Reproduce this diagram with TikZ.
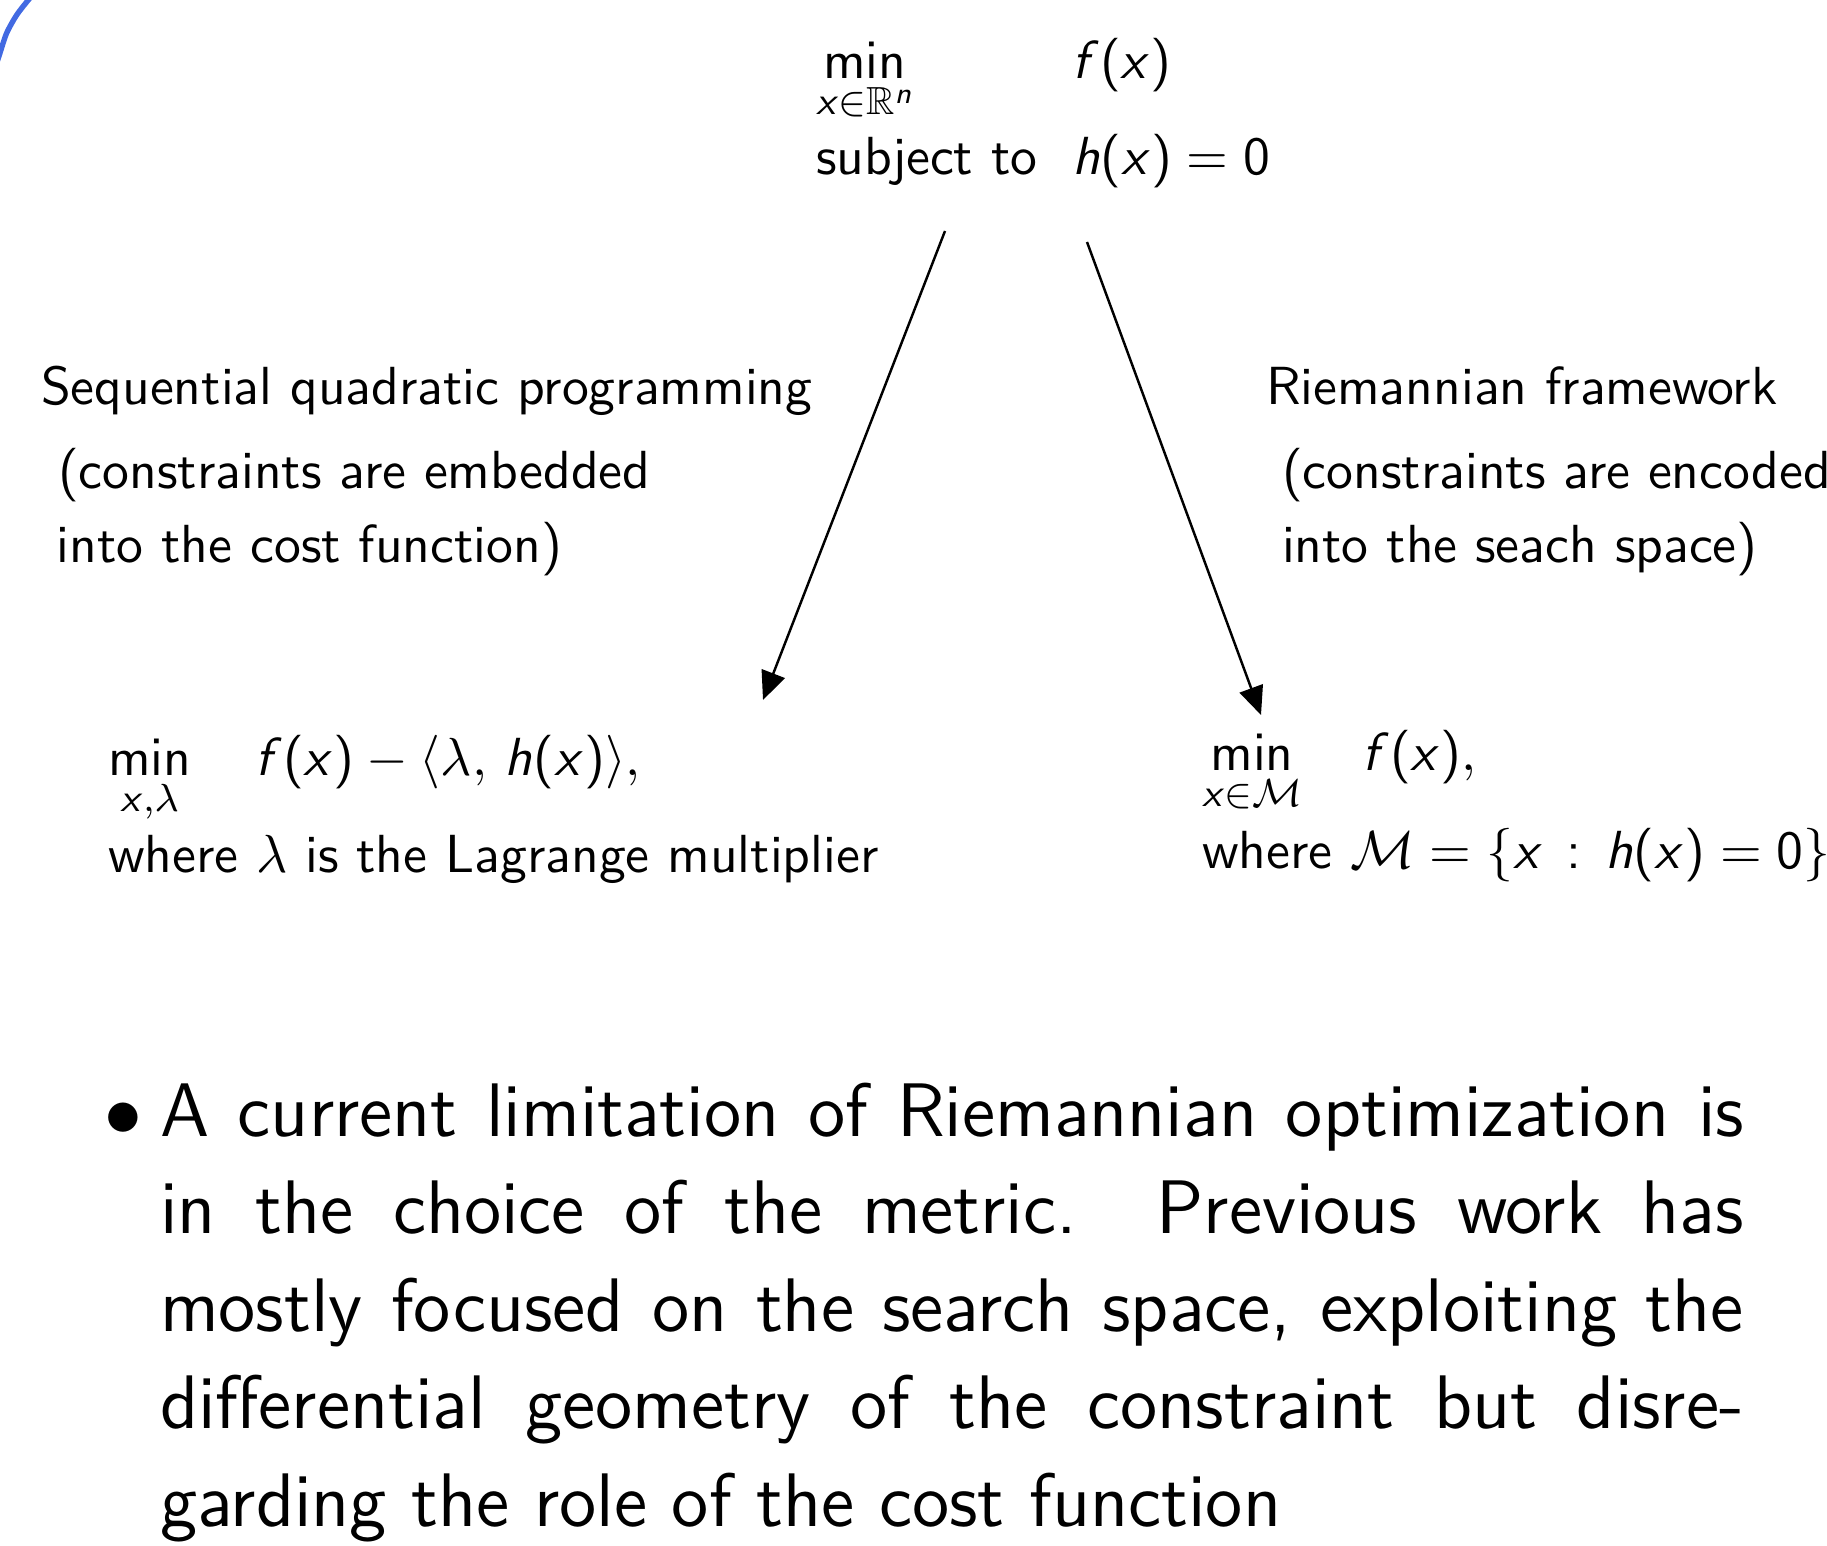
\documentclass[tikz,border=0pt]{standalone}
\usepackage{amssymb}
\usetikzlibrary{arrows.meta}
\DeclareSymbolFont{operators}{OT1}{cmss}{m}{n}
\DeclareSymbolFont{sfit}{OT1}{cmss}{m}{sl}
\DeclareMathSymbol{f}{\mathalpha}{sfit}{`f}
\DeclareMathSymbol{h}{\mathalpha}{sfit}{`h}
\DeclareMathSymbol{n}{\mathalpha}{sfit}{`n}
\DeclareMathSymbol{x}{\mathalpha}{sfit}{`x}
\definecolor{arcblue}{RGB}{66,106,226}
\tikzset{
  txt/.style={anchor=base west, inner sep=0pt, outer sep=0pt, font=\fontsize{10.95}{13.6}\selectfont\sffamily},
  bigtxt/.style={anchor=base west, inner sep=0pt, outer sep=0pt, font=\fontsize{15.49}{19.9}\selectfont\sffamily},
  bultxt/.style={anchor=base west, inner sep=0pt, outer sep=0pt, font=\fontsize{14.4}{17}\selectfont, scale=1.07},
  conn/.style={line width=0.5pt, -{Triangle[length=5.8pt,width=5pt]}},
  arcline/.style={draw=arcblue, line width=1.1pt}
}
\begin{document}
\begin{tikzpicture}[x=0.2041pt, y=-0.2041pt]
\useasboundingbox (0,0) rectangle (1827,1546);
% blue arc in the corner
\draw[arcline] plot[smooth] coordinates {(-3,62) (0,53) (6.7,33) (16.7,15) (28.3,0) (31,-3)};
% top problem
\node[txt] (tmin) at (816,79) {$\displaystyle\min_{x\in\mathbb{R}^n}$};
\node[txt] (tf) at (1072,79) {$f(x)$};
\node[txt] (tsub) at (816,175) {subject to};
\node[txt] (th) at (1072,175) {$h(x)=0$};
% labels
\node[txt] (sqpa) at (41,405) {Sequential quadratic programming};
\node[txt] (sqpb) at (58,489) {(constraints are embedded};
\node[txt] (sqpc) at (57,563) {into the cost function)};
\node[txt] (rfa) at (1266,405) {Riemannian framework};
\node[txt] (rfb) at (1282,489) {(constraints are encoded};
\node[txt] (rfc) at (1282,563) {into the seach space)};
% bottom-left
\node[txt] (lmin) at (108,775) {$\displaystyle\min_{x,\lambda}$};
\node[txt] (lf) at (255,775) {$f(x)-\langle\lambda,\,h(x)\rangle,$};
\node[txt] (lwhere) at (108,872) {where $\lambda$ is the Lagrange multiplier};
% bottom-right
\node[txt] (rmin) at (1202,771) {$\displaystyle\min_{x\in\mathcal{M}}$};
\node[txt] (rf) at (1362,771) {$f(x),$};
\node[txt] (rwhere) at (1202,868) {where $\mathcal{M}=\{x\,:\,h(x)=0\}$};
% arrows
\coordinate (als) at (945,231);
\coordinate (ale) at (763,700);
\coordinate (ars) at (1087,242);
\coordinate (are) at (1261,715);
\draw[conn] (als) -- (ale);
\draw[conn] (ars) -- (are);
% bullet text
\node[bultxt] (bul) at (104,1136) {$\bullet$};
\node[bigtxt] (para) at (160,1136) {\parbox[t]{323.3pt}{A current limitation of Riemannian optimization is\linebreak
in the choice of the metric.\ \ Previous work has\linebreak
mostly focused on the search space, exploiting the\linebreak
differential geometry of the constraint but disre-\linebreak
garding the role of the cost function}};
\end{tikzpicture}
\end{document}
